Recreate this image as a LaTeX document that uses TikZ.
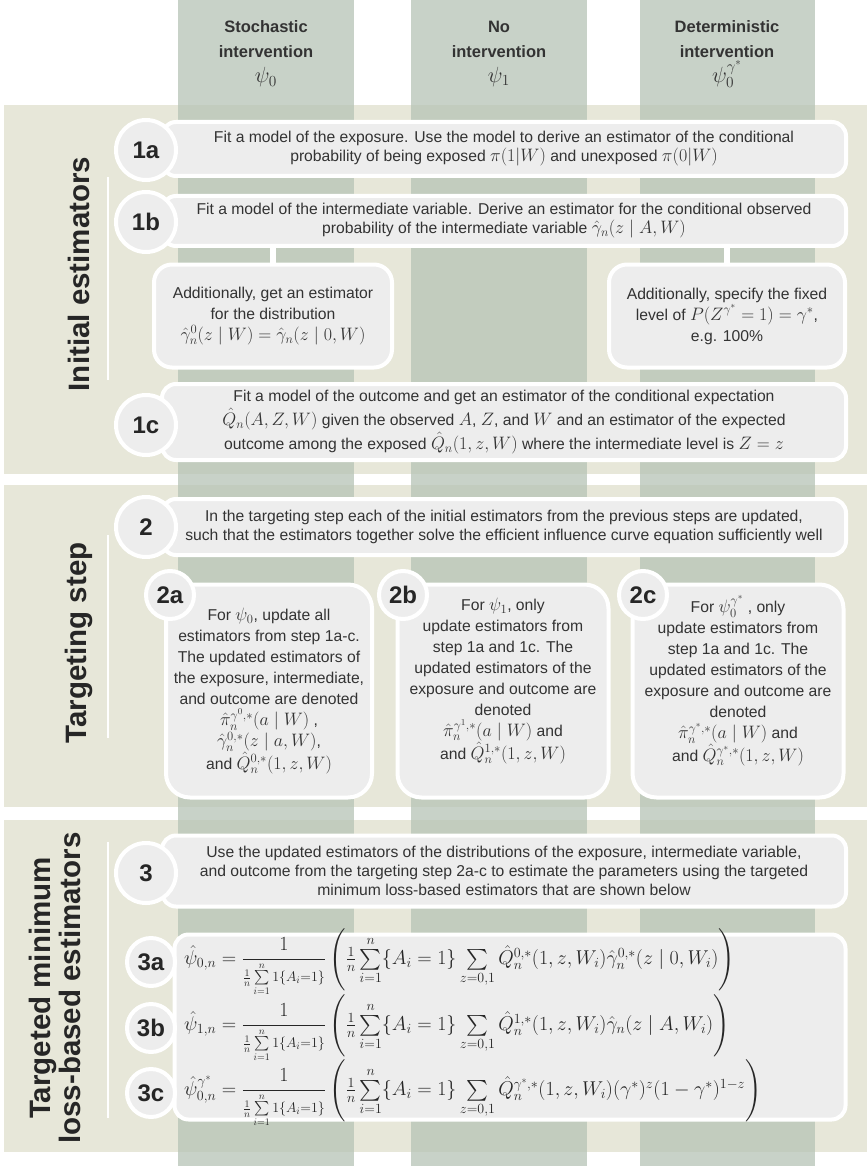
\RequirePackage{fix-cm}
\documentclass[tikz,border=0pt]{standalone}
\usepackage{amsmath}
\usepackage[no-math]{fontspec}
\setmainfont{Liberation Sans}
\definecolor{bandbeige}{RGB}{231,231,217}
\definecolor{colgreen}{RGB}{182,195,182}
\definecolor{boxgrey}{RGB}{237,237,237}
\definecolor{inkgrey}{RGB}{51,51,51}
\newcommand{\meanA}{{\scriptstyle\frac{1}{n}\sum\limits_{i=1}^{n}1\{A_i=1\}}}
\newcommand{\mth}[1]{{\fontsize{18}{19}\selectfont$#1$}}

\begin{document}
\begin{tikzpicture}[x=1pt,y=-1pt]
\tikzstyle{bandfill}=[fill=bandbeige]
\tikzstyle{stripe}=[fill=colgreen,fill opacity=0.75]
\tikzstyle{sepline}=[draw=white,line width=1.5]
\tikzstyle{sectlabel}=[rotate=90,align=center,text=black!85,font=\bfseries\fontsize{29.5}{30}\selectfont]
\tikzstyle{colhead}=[align=center,text=inkgrey,font=\bfseries\fontsize{16.5}{25}\selectfont]
\tikzstyle{panel}=[draw=white,line width=4,fill=boxgrey,rounded corners=14,inner sep=0,align=center,text=inkgrey,font=\fontsize{15.7}{19}\selectfont]
\tikzstyle{stepmark}=[draw=white,line width=4,fill=boxgrey,circle,inner sep=0,minimum size=60,text=black!85,font=\bfseries\fontsize{24}{24}\selectfont]
\tikzstyle{link}=[draw=white,line width=6]
\tikzstyle{eqn}=[anchor=west,inner sep=0,text=black!85,font=\fontsize{20}{22}\selectfont]

\useasboundingbox (0,0) rectangle (867,1166);

% background bands and columns
\foreach \ya/\yb in {105/474,485/807,820/1152}
  \fill[bandfill] (4,\ya) rectangle (867,\yb);
\foreach \xa/\xb in {178/354,411/587,640/815}
  \fill[stripe] (\xa,0) rectangle (\xb,1166);
\foreach \ya/\yb in {177/380,535/738,842/1118}
  \draw[sepline] (108,\ya) -- (108,\yb);

% column heads
\node[colhead] (hstoch) at (266,54) {Stochastic\\intervention\\{\fontsize{22}{25}\selectfont$\psi_0$}};
\node[colhead] (hnone) at (499,54) {No\\intervention\\{\fontsize{22}{25}\selectfont$\psi_1$}};
\node[colhead] (hdet) at (727,54) {Deterministic\\intervention\\{\fontsize{22}{25}\selectfont$\psi_0^{\gamma^*}$}};

% section labels
\node[sectlabel] (lab1) at (79,274) {Initial estimators};
\node[sectlabel] (lab2) at (79,643) {Targeting step};
\node[sectlabel] (lab3) at (55,988) {Targeted minimum\\loss-based estimators};

% initial estimators
\node[panel,minimum width=684,minimum height=54] (b1a) at (504,149)
  {Fit a model of the exposure. Use the model to derive an estimator of the conditional\\
   probability of being exposed \mth{\pi(1|W)} and unexposed \mth{\pi(0|W)}};
\node[panel,minimum width=684,minimum height=50] (b1b) at (504,221)
  {Fit a model of the intermediate variable. Derive an estimator for the conditional observed\\
   probability of the intermediate variable \mth{\hat\gamma_n(z\mid A,W)}};
\node[panel,minimum width=238,minimum height=103,rounded corners=18,font=\fontsize{15.7}{21}\selectfont] (sl) at (273,316)
  {Additionally, get an estimator\\for the distribution\\\mth{\hat\gamma_n^0(z\mid W)=\hat\gamma_n(z\mid 0,W)}};
\node[panel,minimum width=236,minimum height=103,rounded corners=18,font=\fontsize{15.7}{21}\selectfont] (sr) at (727,316)
  {Additionally, specify the fixed\\level of \mth{P(Z^{\gamma^*}=1)=\gamma^*},\\e.g. 100\%};
\draw[link] (sl.north |- b1b.south) -- (sl.north);
\draw[link] (sr.north |- b1b.south) -- (sr.north);
\node[panel,minimum width=684,minimum height=76,font=\fontsize{15.7}{24}\selectfont] (b1c) at (504,422)
  {Fit a model of the outcome and get an estimator of the conditional expectation\\
   \mth{\hat Q_n(A,Z,W)} given the observed \mth{A}, \mth{Z}, and \mth{W} and an estimator of the expected\\
   outcome among the exposed \mth{\hat Q_n(1,z,W)} where the intermediate level is \mth{Z=z}};

% targeting step
\node[panel,minimum width=684,minimum height=56] (b2) at (504,527)
  {In the targeting step each of the initial estimators from the previous steps are updated,\\
   such that the estimators together solve the efficient influence curve equation sufficiently well};
\node[panel,minimum width=206,minimum height=213,rounded corners=24,font=\fontsize{15.7}{21}\selectfont] (b2a) at (269,691)
  {For \mth{\psi_0}, update all\\estimators from step 1a-c.\\The updated estimators of\\the exposure, intermediate,\\and outcome are denoted\\
   \mth{\hat\pi_n^{\gamma^0,*}(a\mid W)} ,\\\mth{\hat\gamma_n^{0,*}(z\mid a,W)},\\and \mth{\hat Q_n^{0,*}(1,z,W)}};
\node[panel,minimum width=211,minimum height=213,rounded corners=24,font=\fontsize{15.7}{21}\selectfont] (b2b) at (503,691)
  {For \mth{\psi_1}, only\\update estimators from\\step 1a and 1c. The\\updated estimators of the\\exposure and outcome are\\denoted\\
   \mth{\hat\pi_n^{\gamma^1,*}(a\mid W)} and\\and \mth{\hat Q_n^{1,*}(1,z,W)}\\[4pt]};
\node[panel,minimum width=211,minimum height=213,rounded corners=24,font=\fontsize{15.7}{21}\selectfont] (b2c) at (738,691)
  {For \mth{\psi_0^{\gamma^*}} , only\\update estimators from\\step 1a and 1c. The\\updated estimators of the\\exposure and outcome are\\denoted\\
   \mth{\hat\pi_n^{\gamma^*,*}(a\mid W)} and\\and \mth{\hat Q_n^{\gamma^*,*}(1,z,W)}\\[4pt]};

% targeted minimum loss-based estimators
\node[panel,minimum width=684,minimum height=71] (b3) at (504,871)
  {Use the updated estimators of the distributions of the exposure, intermediate variable,\\
   and outcome from the targeting step 2a-c to estimate the parameters using the targeted\\
   minimum loss-based estimators that are shown below};
\node[panel,minimum width=671,minimum height=185] (b3x) at (510,1027) {};
\node[eqn] (e3a) at (184,962)
  {$\hat\psi_{0,n}=\dfrac{1}{\meanA}\left(\tfrac{1}{n}\sum\limits_{i=1}^{n}\{A_i=1\}\sum\limits_{z=0,1}\hat Q_n^{0,*}(1,z,W_i)\hat\gamma_n^{0,*}(z\mid 0,W_i)\right)$};
\node[eqn] (e3b) at (184,1028)
  {$\hat\psi_{1,n}=\dfrac{1}{\meanA}\left(\tfrac{1}{n}\sum\limits_{i=1}^{n}\{A_i=1\}\sum\limits_{z=0,1}\hat Q_n^{1,*}(1,z,W_i)\hat\gamma_n(z\mid A,W_i)\right)$};
\node[eqn] (e3c) at (184,1093)
  {$\hat\psi_{0,n}^{\gamma^*}=\dfrac{1}{\meanA}\left(\tfrac{1}{n}\sum\limits_{i=1}^{n}\{A_i=1\}\sum\limits_{z=0,1}\hat Q_n^{\gamma^*,*}(1,z,W_i)(\gamma^*)^z(1-\gamma^*)^{1-z}\right)$};

% step marks
\foreach \place/\name/\lbl in {{(146,150)/c1a/1a},{(146,222)/c1b/1b},{(146,425)/c1c/1c},
                               {(146,527)/c2/2},{(146,873)/c3/3}}
  \node[stepmark] (\name) at \place {\lbl};
\foreach \place/\name/\lbl in {{(170,595)/c2a/2a},{(403,595)/c2b/2b},{(643,595)/c2c/2c},
                               {(151,962)/c3a/3a},{(151,1028)/c3b/3b},{(151,1093)/c3c/3c}}
  \node[stepmark,minimum size=48] (\name) at \place {\lbl};
\end{tikzpicture}
\end{document}
